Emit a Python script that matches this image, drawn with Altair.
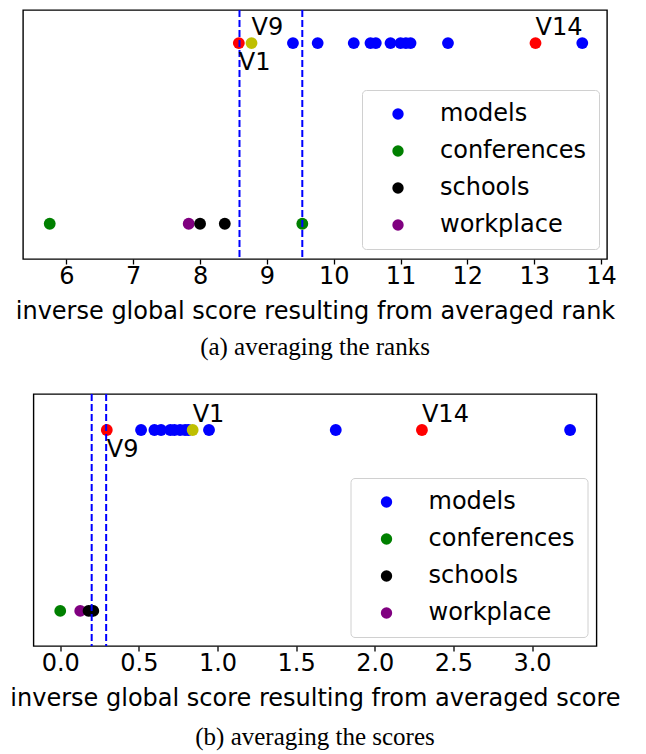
import altair as alt
import pandas as pd

# ---------------- data: panel (a) averaging the ranks ----------------
a_models = [9.39, 9.76, 10.30, 10.55, 10.63, 10.85, 11.00, 11.08, 11.15, 11.71, 13.72]
a_conferences = [5.75, 9.53]
a_schools = [8.00, 8.37]
a_workplace = [7.83]
a_red = [8.58, 13.02]
a_yellow = [8.77]
a_vlines = [8.59, 9.53]
a_above_labels = ["V9", "V14"]
a_above_x = [8.77, 13.02]
a_below_labels = ["V1"]
a_below_x = [8.58]
a_ticks = [6, 7, 8, 9, 10, 11, 12, 13, 14]

# ---------------- data: panel (b) averaging the scores ----------------
b_models = [0.514, 0.599, 0.641, 0.70, 0.726, 0.762, 0.794, 0.815, 0.946, 1.752, 3.242]
b_conferences = [0.0, 0.20]
b_schools = [0.18, 0.21]
b_workplace = [0.127]
b_red = [0.296, 2.30]
b_yellow = [0.842]
b_vlines = [0.20, 0.292]
b_above_labels = ["V1", "V14"]
b_above_x = [0.842, 2.30]
b_below_labels = ["V9"]
b_below_x = [0.296]
b_ticks = [0.0, 0.5, 1.0, 1.5, 2.0, 2.5, 3.0]

categories = ["models", "conferences", "schools", "workplace"]
cat_colors = ["#0000ff", "#008000", "#000000", "#800080"]
cat_rows = [1, 0, 0, 0]

FONT = "DejaVu Sans"
FS = 24


def make_panel(models, conferences, schools, workplace, red, yellow, vlines,
               above_labels, above_x, below_labels, below_x, ticks,
               xdomain, ydomain, width, height, xtitle, caption, legx, legy, fmt, cap_offset):
    groups = [models, conferences, schools, workplace]
    frames = []
    for cat, vals, row in zip(categories, groups, cat_rows):
        frames.append(pd.DataFrame({"x": vals, "row": [row] * len(vals), "cat": [cat] * len(vals)}))

    xenc = alt.X("x:Q", scale=alt.Scale(domain=xdomain, nice=False, zero=False),
                 axis=alt.Axis(values=ticks, format=fmt, title=xtitle, grid=False, domain=False,
                               tickSize=5, tickWidth=1.3, tickColor="black",
                               labelFontSize=FS, labelFont=FONT, labelColor="black", labelPadding=0,
                               labelFlush=False,
                               titleFontSize=FS, titleFont=FONT, titleFontWeight="normal",
                               titleColor="black", titlePadding=11))
    yenc = alt.Y("row:Q", scale=alt.Scale(domain=ydomain, nice=False, zero=False), axis=None)
    color = alt.Color("cat:N", scale=alt.Scale(domain=categories, range=cat_colors),
                      legend=alt.Legend(title=None, orient="none", legendX=legx, legendY=legy,
                                        labelFontSize=FS, labelFont=FONT, labelColor="black",
                                        symbolType="circle", symbolSize=130, symbolStrokeWidth=0,
                                        symbolOpacity=1,
                                        symbolOffset=12, labelOffset=30, rowPadding=13,
                                        padding=12, fillColor="white", strokeColor="#d0d0d0",
                                        cornerRadius=4))

    layers = []
    order = [0, 1, 3, 2]  # models, conferences, workplace, schools
    for i in order:
        layers.append(alt.Chart(frames[i]).mark_circle(size=140, opacity=1).encode(
            x=xenc, y=yenc, color=color))
    red_df = pd.DataFrame({"x": red, "row": [1] * len(red)})
    yel_df = pd.DataFrame({"x": yellow, "row": [1] * len(yellow)})
    layers.append(alt.Chart(red_df).mark_circle(size=140, opacity=1, color="#ff0000").encode(x=xenc, y=yenc))
    layers.append(alt.Chart(yel_df).mark_circle(size=140, opacity=1, color="#bfbf00").encode(x=xenc, y=yenc))
    vl_df = pd.DataFrame({"x": vlines})
    layers.append(alt.Chart(vl_df).mark_rule(color="#0000ff", strokeWidth=2, strokeDash=[7, 3]).encode(x=xenc))
    ab_df = pd.DataFrame({"x": above_x, "row": [1] * len(above_x), "t": above_labels})
    be_df = pd.DataFrame({"x": below_x, "row": [1] * len(below_x), "t": below_labels})
    layers.append(alt.Chart(ab_df).mark_text(align="left", baseline="alphabetic", dy=-8,
                                             fontSize=FS, font=FONT, color="black").encode(x=xenc, y=yenc, text="t:N"))
    layers.append(alt.Chart(be_df).mark_text(align="left", baseline="alphabetic", dy=27,
                                             fontSize=FS, font=FONT, color="black").encode(x=xenc, y=yenc, text="t:N"))
    return alt.layer(*layers).properties(
        width=width, height=height,
        title=alt.TitleParams(caption, orient="bottom", font="Liberation Serif", fontSize=25,
                              fontWeight="normal", color="black", offset=cap_offset, frame="group"))


panel_a = make_panel(a_models, a_conferences, a_schools, a_workplace, a_red, a_yellow, a_vlines,
                     a_above_labels, a_above_x, a_below_labels, a_below_x, a_ticks,
                     [5.35, 14.09], [-0.195, 1.183], 584, 249,
                     "inverse global score resulting from averaged rank", "(a) averaging the ranks",
                     339, 80, "d", 12)
panel_b = make_panel(b_models, b_conferences, b_schools, b_workplace, b_red, b_yellow, b_vlines,
                     b_above_labels, b_above_x, b_below_labels, b_below_x, b_ticks,
                     [-0.17, 3.41], [-0.194, 1.199], 563, 252,
                     "inverse global score resulting from averaged score", "(b) averaging the scores",
                     317, 84, ".1f", 15)

chart = alt.vconcat(panel_a, panel_b, spacing=135, center=True, bounds="flush").resolve_legend(
    color="independent"
).properties(
    padding={"left": 1, "right": 0, "top": 0, "bottom": 0}
).configure(background="white").configure_view(stroke="black", strokeWidth=1.4)

chart.save("out.html", embed_options={"renderer": "svg", "actions": False})
